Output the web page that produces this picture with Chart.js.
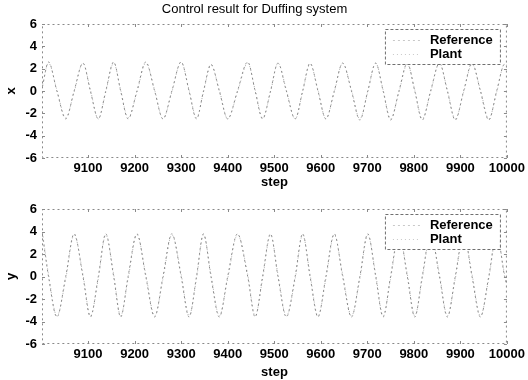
<!DOCTYPE html>
<html>
<head>
<meta charset="utf-8">
<script src="https://cdn.jsdelivr.net/npm/chart.js@4.4.0/dist/chart.umd.min.js"></script>
<style>
    body { margin: 0; background: #fff; }
    .panel { position: absolute; left: 0; width: 528px; height: 190px; }
</style>
</head>
<body>
<div class="panel" style="top:0px"><canvas id="chartX" width="528" height="190"></canvas></div>
<div class="panel" style="top:190px"><canvas id="chartY" width="528" height="190"></canvas></div>
<script>
// values (peaks, troughs and zero crossings)
var steps = [9002, 9015, 9033, 9052, 9070, 9089, 9105, 9122, 9138, 9155,
             9170, 9186, 9205, 9224, 9243, 9261, 9280, 9300, 9317, 9333,
             9348, 9364, 9382, 9400, 9421, 9443, 9459, 9475, 9492, 9508,
             9526, 9545, 9561, 9577, 9594, 9611, 9629, 9647, 9666, 9684,
             9701, 9718, 9734, 9750, 9768, 9786, 9802, 9818, 9836, 9855,
             9872, 9889, 9907, 9925, 9943, 9961, 9978, 9995, 10000];

var xReference = [0.4, 2.6, 0, -2.5, 0, 2.5, 0, -2.5, 0, 2.6,
                  0, -2.5, 0, 2.6, 0, -2.5, 0, 2.6, 0, -2.5,
                  0, 2.4, 0, -2.5, 0, 2.6, 0, -2.5, 0, 2.5,
                  0, -2.5, 0, 2.5, 0, -2.5, 0, 2.5, 0, -2.6,
                  0, 2.5, 0, -2.6, 0, 2.5, 0, -2.6, 0, 2.5,
                  0, -2.6, 0, 2.5, 0, -2.6, 0, 2.4, 2.3];
var xPlant = [0.6, 2.5, 0.1, -2.4, -0.1, 2.5, 0.1, -2.5, -0.1, 2.5,
              0.1, -2.4, -0.1, 2.5, 0.1, -2.5, -0.1, 2.6, 0.1, -2.4,
              -0.1, 2.3, 0.1, -2.5, -0.1, 2.5, 0.1, -2.4, -0.1, 2.5,
              0.1, -2.5, -0.1, 2.4, 0.1, -2.5, -0.1, 2.5, 0.1, -2.5,
              -0.1, 2.5, 0.1, -2.5, -0.1, 2.4, 0.1, -2.5, -0.1, 2.5,
              0.1, -2.5, -0.1, 2.4, 0.1, -2.5, -0.1, 2.4, 2.2];

var yReference = [3.7, 0, -3.6, 0, 3.8, 0, -3.6, 0, 3.8, 0,
                  -3.6, 0, 3.8, 0, -3.6, 0, 3.8, 0, -3.6, 0,
                  3.8, 0, -3.6, 0, 3.8, 0, -3.6, 0, 3.8, 0,
                  -3.6, 0, 3.8, 0, -3.6, 0, 3.8, 0, -3.6, 0,
                  3.8, 0, -3.6, 0, 3.8, 0, -3.6, 0, 3.8, 0,
                  -3.6, 0, 3.8, 0, -3.6, 0, 3.8, 0, -0.8];
var yPlant = [3.9, 0.2, -3.5, -0.2, 3.7, 0.2, -3.5, -0.2, 3.7, 0.2,
              -3.5, -0.2, 3.7, 0.2, -3.5, -0.2, 3.7, 0.2, -3.5, -0.2,
              3.7, 0.2, -3.5, -0.2, 3.7, 0.2, -3.5, -0.2, 3.7, 0.2,
              -3.5, -0.2, 3.7, 0.2, -3.5, -0.2, 3.7, 0.2, -3.5, -0.2,
              3.7, 0.2, -3.5, -0.2, 3.7, 0.2, -3.5, -0.2, 3.7, 0.2,
              -3.5, -0.2, 3.7, 0.2, -3.5, -0.2, 3.7, 0.2, -0.6];

var stepTicks = [9100, 9200, 9300, 9400, 9500, 9600, 9700, 9800, 9900, 10000];
var valueTicks = [-6, -4, -2, 0, 2, 4, 6];
var seriesNames = ['Reference', 'Plant'];

Chart.defaults.font.family = '"Liberation Sans", Arial, Helvetica, sans-serif';
Chart.defaults.color = '#000';

function points(vals) {
    return steps.map(function (s, i) { return { x: s, y: vals[i] }; });
}

// dotted axes box, inward ticks and a boxed legend in the upper right
var boxAndLegend = {
    id: 'boxAndLegend',
    afterDatasetsDraw: function (chart) {
        var a = chart.chartArea;
        var ctx = chart.ctx;
        var xs = chart.scales.x, ys = chart.scales.y;
        ctx.save();
        ctx.strokeStyle = '#8a8a8a';
        ctx.lineWidth = 1;
        ctx.setLineDash([2, 3]);
        ctx.strokeRect(a.left + 0.5, a.top + 0.5, a.right - a.left - 1, a.bottom - a.top - 1);
        ctx.setLineDash([]);
        ctx.beginPath();
        stepTicks.forEach(function (v) {
            var px = Math.round(xs.getPixelForValue(v)) + 0.5;
            ctx.moveTo(px, a.bottom); ctx.lineTo(px, a.bottom - 3);
            ctx.moveTo(px, a.top); ctx.lineTo(px, a.top + 3);
        });
        valueTicks.forEach(function (v) {
            var py = Math.round(ys.getPixelForValue(v)) + 0.5;
            ctx.moveTo(a.left, py); ctx.lineTo(a.left + 3, py);
            ctx.moveTo(a.right, py); ctx.lineTo(a.right - 3, py);
        });
        ctx.stroke();

        var lx = a.right - 122, ly = a.top + 5, lw = 115, lh = 35;
        ctx.fillStyle = '#fff';
        ctx.fillRect(lx, ly, lw, lh);
        ctx.setLineDash([3, 2]);
        ctx.strokeStyle = '#707070';
        ctx.strokeRect(lx + 0.5, ly + 0.5, lw, lh);
        ctx.font = 'bold 13px "Liberation Sans", Arial, sans-serif';
        ctx.textBaseline = 'middle';
        chart.data.datasets.forEach(function (ds, i) {
            var ry = ly + 11 + i * 14;
            ctx.strokeStyle = '#c8c8c8';
            ctx.setLineDash(ds.borderDash);
            ctx.beginPath();
            ctx.moveTo(lx + 8, ry + 0.5);
            ctx.lineTo(lx + 36, ry + 0.5);
            ctx.stroke();
            ctx.fillStyle = '#000';
            ctx.fillText(ds.label, lx + 45, ry);
        });
        ctx.restore();
    }
};

function makeChart(id, axisName, refVals, plantVals, withTitle, padTop, xHeight) {
    var tickFont = { size: 13, weight: 'bold' };
    var plain = function (v) { return String(v); };
    return new Chart(document.getElementById(id), {
        type: 'line',
        data: {
            datasets: [{
                label: seriesNames[0],
                data: points(refVals),
                borderColor: '#8c8c8c',
                borderDash: [2, 3],
                borderWidth: 1,
                pointRadius: 0,
                cubicInterpolationMode: 'monotone'
            }, {
                label: seriesNames[1],
                data: points(plantVals),
                borderColor: '#b0b0b0',
                borderDash: [1, 3],
                borderWidth: 1,
                pointRadius: 0,
                cubicInterpolationMode: 'monotone'
            }]
        },
        options: {
            responsive: false,
            animation: false,
            devicePixelRatio: 1,
            layout: { padding: { left: 0, right: 19, top: padTop, bottom: 0 } },
            plugins: {
                legend: { display: false },
                tooltip: { enabled: false },
                title: {
                    display: withTitle,
                    text: 'Control result for Duffing system',
                    color: '#000',
                    font: { size: 13, weight: 'normal' },
                    padding: { top: 2, bottom: 6.4 }
                }
            },
            scales: {
                x: {
                    type: 'linear',
                    min: 9001,
                    max: 10000,
                    afterBuildTicks: function (s) {
                        s.ticks = stepTicks.map(function (v) { return { value: v }; });
                    },
                    afterFit: function (s) { s.height = xHeight; },
                    ticks: { font: tickFont, padding: 3, maxRotation: 0, autoSkip: false, callback: plain },
                    grid: { display: false, drawTicks: false },
                    border: { display: false },
                    title: {
                        display: true, text: 'step',
                        font: { size: 13, weight: 'bold' },
                        padding: { top: 0, bottom: 0 }
                    }
                },
                y: {
                    min: -6,
                    max: 6,
                    afterBuildTicks: function (s) {
                        s.ticks = valueTicks.map(function (v) { return { value: v }; });
                    },
                    afterFit: function (s) { s.width = 42; },
                    ticks: { font: tickFont, padding: 5, callback: plain },
                    grid: { display: false, drawTicks: false },
                    border: { display: false },
                    title: {
                        display: true, text: axisName,
                        font: { size: 13, weight: 'bold' },
                        padding: { top: 4, bottom: 0 }
                    }
                }
            }
        },
        plugins: [boxAndLegend]
    });
}

makeChart('chartX', 'x', xReference, xPlant, true, 0, 32);
makeChart('chartY', 'y', yReference, yPlant, false, 19, 36);
</script>
</body>
</html>
